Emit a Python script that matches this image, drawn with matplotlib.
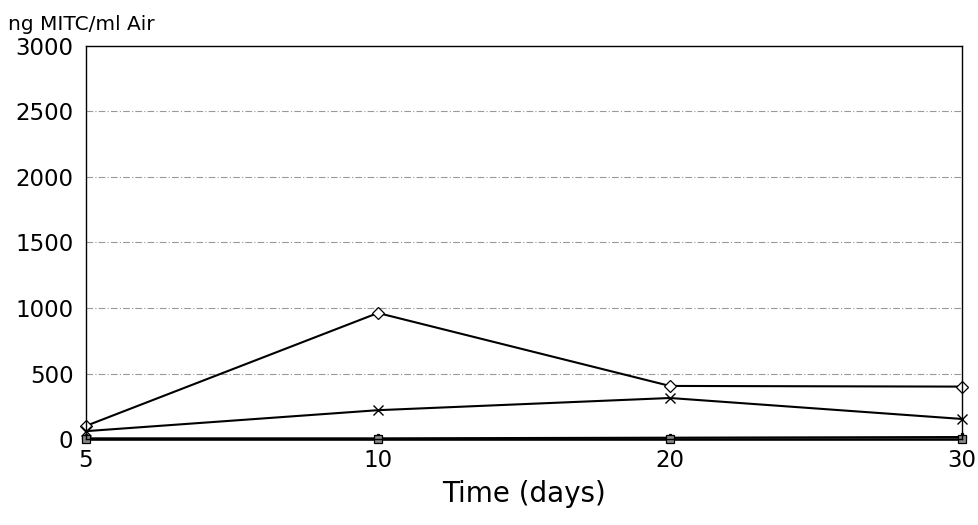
import numpy as np
import matplotlib
matplotlib.use('Agg')
from matplotlib import pyplot as plt

# sampling days (plotted at evenly spaced positions)
days = ['5', '10', '20', '30']

# ng MITC / ml air
diamond_vals = [100, 962, 405, 400]
cross_vals = [60, 220, 313, 153]
square_vals = [0, 0, 0, 0]
plus_vals = [5, 5, 10, 15]

plt.rcParams['font.family'] = ['DejaVu Sans']

fig = plt.figure(figsize=(9.79, 5.25), dpi=100)
ax = fig.add_axes([0.0878, 0.1638, 0.8948, 0.7486])

x = np.arange(len(days))
ax.plot(x, diamond_vals, color='black', lw=1.5, marker='D', ms=6, mfc='white', mec='black', mew=0.9, clip_on=False)
ax.plot(x, cross_vals, color='black', lw=1.5, marker='x', ms=7, mew=1.0, clip_on=False)
ax.plot(x, plus_vals, color='black', lw=1.5, marker='P', ms=6, mfc='white', mec='black', mew=0.9, clip_on=False)
ax.plot(x, square_vals, color='black', lw=1.8, marker='s', ms=6, mfc='#888888', mec='black', mew=0.9, clip_on=False)

ax.set_xlim(0, len(days) - 1)
ax.set_ylim(0, 3000)
ax.set_xticks(x)
ax.set_xticklabels(days)
ax.set_yticks(np.arange(0, 3001, 500))

for yv in np.arange(500, 3000, 500):
    ax.axhline(yv, color='#999999', lw=0.8, ls=(0, (6, 2, 1, 2)), zorder=0)

for s in ax.spines.values():
    s.set_linewidth(1.0)
ax.tick_params(axis='both', length=0, labelsize=16.5)
ax.tick_params(axis='y', pad=9)
ax.tick_params(axis='x', pad=7)

ax.set_xlabel('Time (days)', fontsize=20, labelpad=6)
fig.text(0.008, 0.935, 'ng MITC/ml Air', fontsize=14.5, ha='left', va='bottom')

fig.savefig('out.png', dpi=100)
